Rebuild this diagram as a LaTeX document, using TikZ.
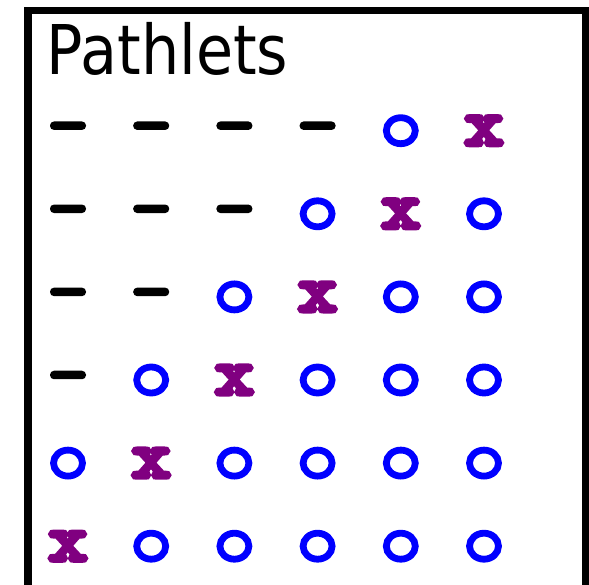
\documentclass[tikz,border=0pt]{standalone}
\usepackage{fontspec}
\newfontfamily\titlefont{DejaVu Sans}[FakeStretch=0.88]
\font\xglyph="[lmmonolt10-bold.otf]:embolden=6;extend=1.15" at 67pt
\definecolor{xpurple}{RGB}{128,0,128}
\definecolor{oblue}{RGB}{0,0,255}
\usetikzlibrary{shapes.geometric}
\tikzset{
  dashsym/.style={rectangle, fill=black, minimum width=36pt, minimum height=8.5pt, inner sep=0pt, rounded corners=4pt},
  osym/.style={ellipse, draw=oblue, line width=6.8pt, minimum width=29pt, minimum height=26pt, inner sep=0pt},
  xsym/.style={inner sep=0pt, text=xpurple, font=\xglyph},
}
\begin{document}
\begin{tikzpicture}[x=1pt,y=1pt]
\useasboundingbox (0,0) rectangle (589,584);
\draw[line width=7.5pt] (27.8,573.5) rectangle (585.5,-6);
\node[anchor=base west, inner sep=0pt, font=\titlefont\fontsize{68.6}{70}\selectfont] (title) at (46.5,509) {Pathlets};
\foreach \r in {0,...,5}{
  \foreach \c in {0,...,5}{
    \pgfmathsetmacro{\px}{68+83.2*\c}
    \pgfmathsetmacro{\py}{584-(130.7+83.1*\r)}
    \pgfmathtruncatemacro{\lim}{4-\r}
    \pgfmathtruncatemacro{\xl}{5-\r}
    \ifnum\c<\lim
      \node[dashsym] (s-\r-\c) at (\px,\py+5) {};
    \else\ifnum\c=\xl
      \node[xsym] (s-\r-\c) at (\px,\py) {x};
    \else
      \node[osym] (s-\r-\c) at (\px,\py) {};
    \fi\fi
  }
}
\end{tikzpicture}
\end{document}
